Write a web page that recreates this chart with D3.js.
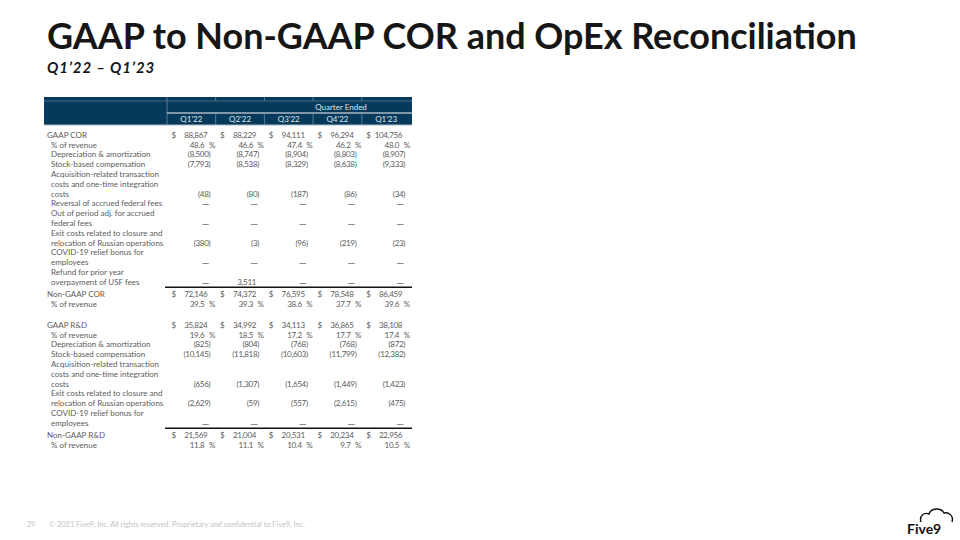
<!DOCTYPE html>
<html>
<head>
<meta charset="utf-8">
<script src="https://cdn.jsdelivr.net/npm/d3@7/dist/d3.min.js"></script>
<style>
  html, body { margin: 0; padding: 0; background: #fff; }
  svg { display: block; font-family: Lato, "Open Sans", sans-serif; }
</style>
</head>
<body>
<svg id="slide" width="960" height="540"></svg>
<script>
// quarters shown as columns
const quarters = ["Q1'22", "Q2'22", "Q3'22", "Q4'22", "Q1'23"];

// cost of revenue
const gaapCor          = [88867, 88229, 94111, 96294, 104756];
const gaapCorPct       = [48.6, 46.6, 47.4, 46.2, 48.0];
const corDepreciation  = [-8500, -8747, -8904, -8803, -8907];
const corStockComp     = [-7793, -8538, -8329, -8638, -9333];
const corAcquisition   = [-48, -80, -187, -86, -34];
const corFedFeeReversal = [0, 0, 0, 0, 0];
const corOutOfPeriod   = [0, 0, 0, 0, 0];
const corExitRussia    = [-380, -3, -96, -219, -23];
const corCovidBonus    = [0, 0, 0, 0, 0];
const corUsfRefund     = [0, 3511, 0, 0, 0];
const nonGaapCor       = [72146, 74372, 76595, 78548, 86459];
const nonGaapCorPct    = [39.5, 39.3, 38.6, 37.7, 39.6];

// research & development
const gaapRd           = [35824, 34992, 34113, 36865, 38108];
const gaapRdPct        = [19.6, 18.5, 17.2, 17.7, 17.4];
const rdDepreciation   = [-825, -804, -768, -768, -872];
const rdStockComp      = [-10145, -11818, -10603, -11799, -12382];
const rdAcquisition    = [-656, -1307, -1654, -1449, -1423];
const rdExitRussia     = [-2629, -59, -557, -2615, -475];
const rdCovidBonus     = [0, 0, 0, 0, 0];
const nonGaapRd        = [21569, 21004, 20531, 20234, 22956];
const nonGaapRdPct     = [11.8, 11.1, 10.4, 9.7, 10.5];

const sections = [
  [
    {label: ["GAAP COR"], values: gaapCor, kind: "dollar"},
    {label: ["% of revenue"], values: gaapCorPct, kind: "pct", indent: true},
    {label: ["Depreciation & amortization"], values: corDepreciation, kind: "num", indent: true},
    {label: ["Stock-based compensation"], values: corStockComp, kind: "num", indent: true},
    {label: ["Acquisition-related transaction", "costs and one-time integration", "costs"], values: corAcquisition, kind: "num", indent: true},
    {label: ["Reversal of accrued federal fees"], values: corFedFeeReversal, kind: "num", indent: true},
    {label: ["Out of period adj. for accrued", "federal fees"], values: corOutOfPeriod, kind: "num", indent: true},
    {label: ["Exit costs related to closure and", "relocation of Russian operations"], values: corExitRussia, kind: "num", indent: true},
    {label: ["COVID-19 relief bonus for", "employees"], values: corCovidBonus, kind: "num", indent: true},
    {label: ["Refund for prior year", "overpayment of USF fees"], values: corUsfRefund, kind: "num", indent: true},
    {label: ["Non-GAAP COR"], values: nonGaapCor, kind: "dollar", total: true},
    {label: ["% of revenue"], values: nonGaapCorPct, kind: "pct", indent: true}
  ],
  [
    {label: ["GAAP R&D"], values: gaapRd, kind: "dollar"},
    {label: ["% of revenue"], values: gaapRdPct, kind: "pct", indent: true},
    {label: ["Depreciation & amortization"], values: rdDepreciation, kind: "num", indent: true},
    {label: ["Stock-based compensation"], values: rdStockComp, kind: "num", indent: true},
    {label: ["Acquisition-related transaction", "costs and one-time integration", "costs"], values: rdAcquisition, kind: "num", indent: true},
    {label: ["Exit costs related to closure and", "relocation of Russian operations"], values: rdExitRussia, kind: "num", indent: true},
    {label: ["COVID-19 relief bonus for", "employees"], values: rdCovidBonus, kind: "num", indent: true},
    {label: ["Non-GAAP R&D"], values: nonGaapRd, kind: "dollar", total: true},
    {label: ["% of revenue"], values: nonGaapRdPct, kind: "pct", indent: true}
  ]
];

const svg = d3.select("#slide");
const textGray = "#5c5c5c";
const navy = "#063a5b";

// ---- title
const title = svg.append("text")
  .attr("x", 47).attr("y", 49)
  .attr("font-weight", 700).attr("font-size", 40)
  .attr("fill", "#161616")
  .text("GAAP to Non-GAAP COR and OpEx Reconciliation");
const tw = title.node().getComputedTextLength();
title.attr("font-size", 40 * 810 / tw);

svg.append("text")
  .attr("x", 47).attr("y", 72.5)
  .attr("font-weight", 700).attr("font-style", "italic").attr("font-size", 15)
  .attr("letter-spacing", 0.9)
  .attr("fill", "#161616")
  .text("Q1’22 – Q1’23");

// ---- table layout
const tableLeft = 44, labelRight = 167, tableRight = 412;
const x = d3.scaleBand().domain(quarters).range([labelRight, 410.5]);

// assign line positions
const rows = [];
let idx = 0;
sections.forEach((sec, si) => {
  if (si > 0) idx += 1.14;
  sec.forEach(r => {
    if (r.total) idx += 0.25;
    r.first = idx;
    r.last = idx + r.label.length - 1;
    idx = r.last + 1;
    rows.push(r);
  });
});
const y = d3.scaleLinear().domain([0, 10]).range([135, 233]);

// ---- header band
const head = svg.append("g");
head.append("rect").attr("x", tableLeft).attr("y", 97)
  .attr("width", tableRight - tableLeft).attr("height", 28).attr("fill", navy);
head.append("line").attr("x1", tableLeft).attr("x2", tableRight)
  .attr("y1", 101).attr("y2", 101).attr("stroke", "#54768f").attr("stroke-width", 0.8);
const borders = [labelRight].concat(quarters.map(q => x(q) + x.bandwidth()));
head.selectAll(".topdiv").data(borders.slice(0, -1)).join("line")
  .attr("x1", d => d).attr("x2", d => d).attr("y1", 97).attr("y2", 101)
  .attr("stroke", "#6f8ba1").attr("stroke-width", 0.8);
head.append("line").attr("x1", labelRight).attr("x2", labelRight)
  .attr("y1", 101).attr("y2", 125).attr("stroke", "#6f8ba1").attr("stroke-width", 0.8);
head.append("line").attr("x1", labelRight).attr("x2", tableRight)
  .attr("y1", 113).attr("y2", 113).attr("stroke", "#aab8c4").attr("stroke-width", 1.5);
head.selectAll(".qdiv").data(borders.slice(1, -1)).join("line")
  .attr("x1", d => d).attr("x2", d => d).attr("y1", 114).attr("y2", 125)
  .attr("stroke", "#6f8ba1").attr("stroke-width", 0.8);
head.append("line").attr("x1", tableLeft).attr("x2", tableRight)
  .attr("y1", 125).attr("y2", 125).attr("stroke", "#aab8c4").attr("stroke-width", 1);
head.append("text").attr("x", 341).attr("y", 107).attr("dy", "0.35em")
  .attr("text-anchor", "middle").attr("font-size", 8).attr("fill", "#dde5ec")
  .text("Quarter Ended");
head.selectAll(".qlabel").data(quarters).join("text")
  .attr("x", d => x(d) + x.bandwidth() / 2).attr("y", 119.5).attr("dy", "0.35em")
  .attr("text-anchor", "middle").attr("font-size", 8).attr("fill", "#dde5ec")
  .text(d => d);

// ---- body
const body = svg.append("g").attr("font-size", 8).attr("fill", textGray);
const fmt = d3.format(",");

rows.forEach(r => {
  r.label.forEach((line, li) => {
    body.append("text")
      .attr("x", r.indent ? 51 : 47).attr("y", y(r.first + li)).attr("dy", "0.35em")
      .text(line);
  });
  if (r.total) {
    body.append("line").attr("x1", 165).attr("x2", tableRight)
      .attr("y1", y(r.first - 0.72)).attr("y2", y(r.first - 0.72))
      .attr("stroke", "#111").attr("stroke-width", 1.4);
  }
  const vy = y(r.last);
  r.values.forEach((v, i) => {
    const q = quarters[i];
    const numRight = x(q) + x.bandwidth() - 8.3;
    if (r.kind === "dollar") {
      body.append("text").attr("x", numRight - 36).attr("y", vy).attr("dy", "0.35em").text("$");
      body.append("text").attr("x", numRight).attr("y", vy).attr("dy", "0.35em")
        .attr("text-anchor", "end").attr("letter-spacing", -0.3).text(fmt(v));
    } else if (r.kind === "pct") {
      body.append("text").attr("x", numRight - 3).attr("y", vy).attr("dy", "0.35em")
        .attr("text-anchor", "end").attr("letter-spacing", -0.3).text(v.toFixed(1));
      body.append("text").attr("x", numRight + 1.5).attr("y", vy).attr("dy", "0.35em")
        .text("%");
    } else if (v === 0) {
      body.append("text").attr("x", numRight + 2).attr("y", vy).attr("dy", "0.35em")
        .attr("text-anchor", "end").attr("font-size", 10).text("—");
    } else {
      const t = v < 0 ? "(" + fmt(-v) + ")" : fmt(v);
      body.append("text").attr("x", v < 0 ? numRight + 3 : numRight).attr("y", vy).attr("dy", "0.35em")
        .attr("text-anchor", "end").attr("letter-spacing", -0.3).text(t);
    }
  });
});

// ---- footer
svg.append("text").attr("x", 27).attr("y", 527).attr("font-size", 7).attr("fill", "#c4c4c4").text("29");
svg.append("text").attr("x", 49).attr("y", 527).attr("font-size", 7.5).attr("fill", "#c4c4c4")
  .attr("textLength", 256).attr("lengthAdjust", "spacing")
  .text("© 2021 Five9, Inc. All rights reserved. Proprietary and confidential to Five9, Inc.");

// ---- logo
const logo = svg.append("g");
logo.append("path")
  .attr("d", "M921,522 C919,516 924,512 929,514 C931,508 941,507 944,513 C949,512 954,516 952,522")
  .attr("fill", "none").attr("stroke", "#111").attr("stroke-width", 1.4);
logo.append("text").attr("x", 907).attr("y", 534)
  .attr("font-size", 14).attr("font-weight", 700).attr("fill", "#111")
  .text("Five9");
</script>
</body>
</html>
